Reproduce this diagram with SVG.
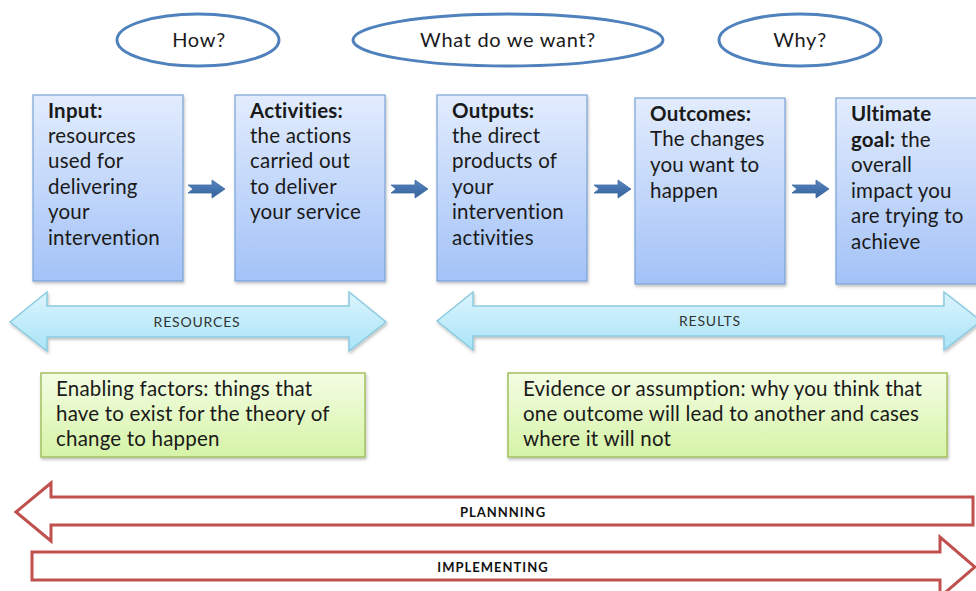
<svg xmlns="http://www.w3.org/2000/svg" width="976" height="591" viewBox="0 0 976 591">
  <style>
    .q { fill: #ffffff; stroke: #4f81bd; stroke-width: 3; }
    .qt { font-family: Lato, "Liberation Sans", sans-serif; font-size: 20px; letter-spacing: 0.7px; fill: #1a1a1a; text-anchor: middle; }
    .box { fill: url(#boxGrad); stroke: #7aa2d8; stroke-width: 1.2; filter: url(#shadow); }
    .bt { font-family: Lato, "Liberation Sans", sans-serif; font-size: 20.5px; letter-spacing: 0.2px; fill: #1a1a1a; }
    .bt .h { font-weight: bold; }
    .flow { fill: url(#flowGrad); stroke: #3b6aa0; stroke-width: 0.8; }
    .span { fill: url(#spanGrad); stroke: #8acbe0; stroke-width: 1.5; filter: url(#shadow); }
    .st { font-family: Lato, "Liberation Sans", sans-serif; font-size: 14px; fill: #333; text-anchor: middle; letter-spacing: 0.8px; }
    .note { fill: url(#noteGrad); stroke: #a3c05f; stroke-width: 1.5; filter: url(#shadow); }
    .nt { font-family: Lato, "Liberation Sans", sans-serif; font-size: 20.5px; letter-spacing: 0.2px; fill: #1a1a1a; }
    .phase { fill: #ffffff; stroke: #c0504d; stroke-width: 3; }
    .pt { font-family: Lato, "Liberation Sans", sans-serif; font-size: 13px; font-weight: bold; fill: #111; text-anchor: middle; letter-spacing: 1px; }
  </style>
  <defs>
    <linearGradient id="boxGrad" x1="0" y1="0" x2="0" y2="1">
      <stop offset="0" stop-color="#e2ecfd"/>
      <stop offset="1" stop-color="#a3c2f7"/>
    </linearGradient>
    <linearGradient id="flowGrad" x1="0" y1="0" x2="0" y2="1">
      <stop offset="0" stop-color="#5b87c0"/>
      <stop offset="0.5" stop-color="#4573ad"/>
      <stop offset="1" stop-color="#36639c"/>
    </linearGradient>
    <linearGradient id="spanGrad" x1="0" y1="0" x2="0" y2="1">
      <stop offset="0" stop-color="#dcf4fd"/>
      <stop offset="1" stop-color="#a9e4f7"/>
    </linearGradient>
    <linearGradient id="noteGrad" x1="0" y1="0" x2="0" y2="1">
      <stop offset="0" stop-color="#f4fde4"/>
      <stop offset="1" stop-color="#d5f4a6"/>
    </linearGradient>
    <filter id="shadow" x="-5%" y="-5%" width="110%" height="115%">
      <feDropShadow dx="1" dy="2" stdDeviation="1.5" flood-color="#000" flood-opacity="0.25"/>
    </filter>
    <path id="flowArrow" d="M0,-4 L24,-4 L24,-9 L37,0 L24,9 L24,4 L0,4 L5,0 Z"/>
  </defs>

  <!-- question bubbles -->
  <g id="how">
    <ellipse class="q" cx="198" cy="40" rx="81" ry="26"/>
    <text class="qt" x="199" y="47">How?</text>
  </g>
  <g id="what">
    <ellipse class="q" cx="508" cy="40" rx="155" ry="26"/>
    <text class="qt" x="508" y="47">What do we want?</text>
  </g>
  <g id="why">
    <ellipse class="q" cx="800" cy="40" rx="81" ry="26"/>
    <text class="qt" x="800" y="47">Why?</text>
  </g>

  <!-- logic-model stages -->
  <g id="input">
    <rect class="box" x="33" y="95" width="150" height="186"/>
    <text class="bt" x="48">
      <tspan class="h" x="48" y="118">Input:</tspan>
      <tspan x="48" y="143">resources</tspan>
      <tspan x="48" y="168">used for</tspan>
      <tspan x="48" y="194">delivering</tspan>
      <tspan x="48" y="219">your</tspan>
      <tspan x="48" y="245">intervention</tspan>
    </text>
  </g>
  <g id="activities">
    <rect class="box" x="235" y="95" width="150" height="186"/>
    <text class="bt">
      <tspan class="h" x="250" y="118">Activities:</tspan>
      <tspan x="250" y="143">the actions</tspan>
      <tspan x="250" y="168">carried out</tspan>
      <tspan x="250" y="194">to deliver</tspan>
      <tspan x="250" y="219">your service</tspan>
    </text>
  </g>
  <g id="outputs">
    <rect class="box" x="437" y="95" width="150" height="186"/>
    <text class="bt">
      <tspan class="h" x="452" y="118">Outputs:</tspan>
      <tspan x="452" y="143">the direct</tspan>
      <tspan x="452" y="168">products of</tspan>
      <tspan x="452" y="194">your</tspan>
      <tspan x="452" y="219">intervention</tspan>
      <tspan x="452" y="245">activities</tspan>
    </text>
  </g>
  <g id="outcomes">
    <rect class="box" x="635" y="98" width="150" height="186"/>
    <text class="bt">
      <tspan class="h" x="650" y="121">Outcomes:</tspan>
      <tspan x="650" y="146">The changes</tspan>
      <tspan x="650" y="172">you want to</tspan>
      <tspan x="650" y="198">happen</tspan>
    </text>
  </g>
  <g id="ultimate-goal">
    <rect class="box" x="836" y="98" width="150" height="186"/>
    <text class="bt">
      <tspan class="h" x="851" y="121">Ultimate</tspan>
      <tspan class="h" x="851" y="147">goal:</tspan><tspan> the</tspan>
      <tspan x="851" y="172">overall</tspan>
      <tspan x="851" y="198">impact you</tspan>
      <tspan x="851" y="223">are trying to</tspan>
      <tspan x="851" y="249">achieve</tspan>
    </text>
  </g>

  <!-- flow between stages -->
  <g id="connectors">
    <use href="#flowArrow" class="flow" x="188" y="189"/>
    <use href="#flowArrow" class="flow" x="391" y="189"/>
    <use href="#flowArrow" class="flow" x="594" y="189"/>
    <use href="#flowArrow" class="flow" x="792" y="189"/>
  </g>

  <!-- spans over the stages -->
  <g id="resources">
    <path class="span" d="M10,322 L47,292 L47,306 L349,306 L349,292 L386,322 L349,351 L349,337 L47,337 L47,351 Z"/>
    <text class="st" x="197" y="327">RESOURCES</text>
  </g>
  <g id="results">
    <path class="span" d="M437,321 L473,292 L473,306 L944,306 L944,292 L981,321 L944,350 L944,336 L473,336 L473,350 Z"/>
    <text class="st" x="710" y="326">RESULTS</text>
  </g>

  <!-- notes -->
  <g id="enabling-factors">
    <rect class="note" x="41" y="373" width="324" height="84"/>
    <text class="nt">
      <tspan x="56" y="396">Enabling factors: things that</tspan>
      <tspan x="56" y="421">have to exist for the theory of</tspan>
      <tspan x="56" y="446">change to happen</tspan>
    </text>
  </g>
  <g id="evidence">
    <rect class="note" x="508" y="373" width="439" height="84"/>
    <text class="nt">
      <tspan x="523" y="396">Evidence or assumption: why you think that</tspan>
      <tspan x="523" y="421">one outcome will lead to another and cases</tspan>
      <tspan x="523" y="446">where it will not</tspan>
    </text>
  </g>

  <!-- direction of work -->
  <g id="planning">
    <path class="phase" d="M16,512 L51,483 L51,497 L973,497 L973,525 L51,525 L51,541 Z"/>
    <text class="pt" x="503" y="517">PLANNNING</text>
  </g>
  <g id="implementing">
    <path class="phase" d="M32,552 L940,552 L940,537 L975,567 L940,597 L940,580 L32,580 Z"/>
    <text class="pt" x="493" y="572">IMPLEMENTING</text>
  </g>
</svg>
